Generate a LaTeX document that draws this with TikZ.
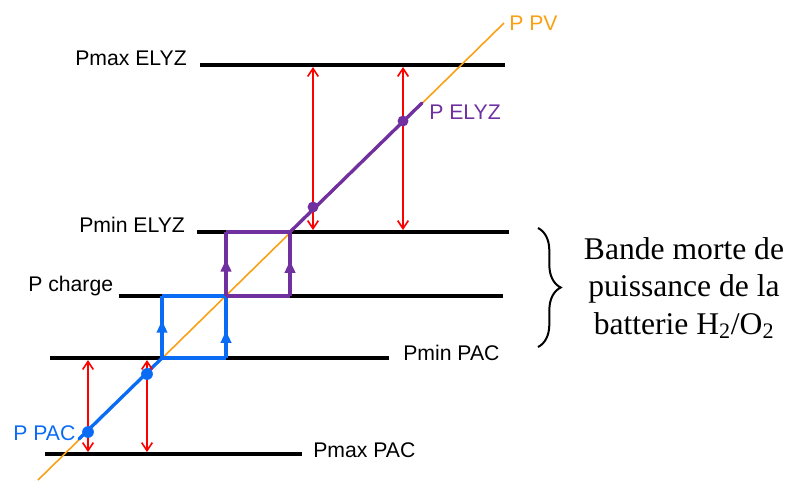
\documentclass[tikz,border=0pt]{standalone}
\usepackage{fontspec}
\setmainfont{Liberation Sans}
\newfontfamily\serifbrace{Liberation Serif}
\usetikzlibrary{arrows.meta,calc,decorations.pathreplacing}
\definecolor{pvorange}{RGB}{250,160,20}
\definecolor{pacblue}{RGB}{10,108,245}
\definecolor{elyzpurple}{RGB}{112,48,160}
\definecolor{arrred}{RGB}{255,0,0}
\tikzset{
  level/.style={line width=2.4pt,black},
  lbl/.style={inner sep=0pt,font=\fontsize{15.9}{18}\selectfont},
  pvline/.style={line width=1.2pt,pvorange},
  bluebox/.style={line width=2.5pt,pacblue},
  purplebox/.style={line width=2.5pt,elyzpurple},
  redarr/.style={line width=1.2pt,arrred,{Straight Barb[length=6pt,width=8pt,line width=1.2pt]}-{Straight Barb[length=6pt,width=8pt,line width=1.2pt]}},
  uptip/.style={-{Latex[length=11pt,width=9pt]}},
  dotb/.style={circle,fill=pacblue,inner sep=0pt,minimum size=8.8pt},
  dotp/.style={circle,fill=elyzpurple,inner sep=0pt,minimum size=8.2pt},
}
\begin{document}
\begin{tikzpicture}[x=0.75pt,y=-0.75pt]
\useasboundingbox (0,0) rectangle (788,480);
% level line end points
\coordinate (maxE1) at (200,65);  \coordinate (maxE2) at (505,65);
\coordinate (minE1) at (197,232); \coordinate (minE2) at (509,232);
\coordinate (ch1) at (119,296);   \coordinate (ch2) at (503,296);
\coordinate (minP1) at (50,358);  \coordinate (minP2) at (389,358);
\coordinate (maxP1) at (45,454);  \coordinate (maxP2) at (302,454);
% level lines
\draw[level] (maxE1) -- (maxE2);
\draw[level] (minE1) -- (minE2);
\draw[level] (ch1) -- (ch2);
\draw[level] (minP1) -- (minP2);
\draw[level] (maxP1) -- (maxP2);
% labels
\node[lbl,anchor=base west] (lmaxE) at (75,65.5) {Pmax ELYZ};
\node[lbl,anchor=base west] (lminE) at (79,232) {Pmin ELYZ};
\node[lbl,anchor=base west] (lch) at (28,291) {P charge};
\node[lbl,anchor=base west] (lminP) at (403,360) {Pmin PAC};
\node[lbl,anchor=base west] (lmaxP) at (313,457) {Pmax PAC};
\node[lbl,anchor=base west,text=pacblue] (lpac) at (13,440) {P PAC};
\node[lbl,anchor=base west,text=elyzpurple] (lelyz) at (429,119) {P ELYZ};
\node[lbl,anchor=base west,text=pvorange] (lpv) at (509,30.5) {P PV};
% PV line
\coordinate (pv1) at (38,480); \coordinate (pv2) at (504,23);
\draw[pvline] (pv1) -- (pv2);
% blue box corners
\coordinate (b1) at (162,358); \coordinate (b2) at (226,358);
\coordinate (b3) at (226,296); \coordinate (b4) at (162,296);
\draw[bluebox] (b1) -- (b2);
\draw[bluebox] (b4) -- (b3);
\draw[bluebox] (b1) -- (b4);
\draw[bluebox] (b2) -- (b3);
\draw[bluebox,uptip] (b1) -- ($(b1)!0.645!(b4)$);
\draw[bluebox,uptip] (b2) -- ($(b2)!0.48!(b3)$);
\coordinate (bd) at (79,439);
\draw[bluebox,line cap=round] (bd) -- (b1);
% purple box corners
\coordinate (p1) at (226,296); \coordinate (p2) at (290,296);
\coordinate (p3) at (290,232); \coordinate (p4) at (226,232);
\draw[purplebox] (p1) -- (p2);
\draw[purplebox] (p4) -- (p3);
\draw[purplebox] (p1) -- (p4);
\draw[purplebox] (p2) -- (p3);
\draw[purplebox,uptip] (p1) -- ($(p1)!0.61!(p4)$);
\draw[purplebox,uptip] (p2) -- ($(p2)!0.59!(p3)$);
\coordinate (pd) at (422,103);
\draw[purplebox,line cap=round] (p3) -- (pd);
% red double arrows
\coordinate (r1t) at (313,67);  \coordinate (r1b) at (313,230);
\coordinate (r2t) at (403,67);  \coordinate (r2b) at (403,230);
\coordinate (r3t) at (88,360);  \coordinate (r3b) at (88,452);
\coordinate (r4t) at (147,360); \coordinate (r4b) at (147,452);
\draw[redarr] (r1t) -- (r1b);
\draw[redarr] (r2t) -- (r2b);
\draw[redarr] (r3t) -- (r3b);
\draw[redarr] (r4t) -- (r4b);
% dots
\node[dotb] (db1) at (88,432) {};
\node[dotb] (db2) at (147,374) {};
\node[dotp] (dp1) at (313,207) {};
\node[dotp] (dp2) at (403,121) {};
% brace
\coordinate (brt) at (538,228); \coordinate (brb) at (538,347);
\draw[line width=1.5pt,decorate,decoration={brace,amplitude=17pt}] (brt) -- (brb);
\node[inner sep=0pt,align=center,anchor=base,font=\serifbrace\fontsize{23.7}{28.1}\selectfont] (band) at (684,334)
  {Bande morte de\\puissance de la\\batterie H\textsubscript{2}/O\textsubscript{2}};
\end{tikzpicture}
\end{document}
